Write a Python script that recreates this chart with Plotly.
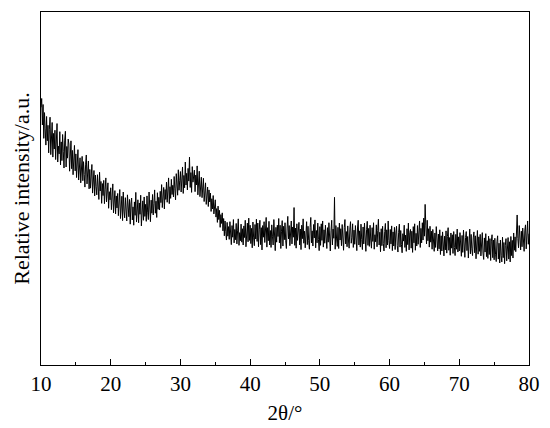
import plotly.graph_objects as go

# XRD scan: start angle and step of the measurement (degrees 2-theta)
start_deg = 10.0
step_deg = 0.1

# Relative intensity (a.u.), one row per degree: 10.0..10.9, 11.0..11.9, ...
intensity = [
    73.0, 75.5, 68.0, 73.8, 64.2, 71.5, 66.9, 62.3, 70.4, 63.5,
    67.9, 60.1, 66.8, 70.2, 59.6, 64.3, 68.7, 58.9, 65.6, 61.2,
    66.5, 58.2, 63.9, 68.4, 57.5, 62.0, 59.8, 66.1, 56.7, 63.2,
    57.9, 65.3, 60.4, 55.8, 63.7, 66.2, 56.1, 61.9, 58.6, 64.0,
    62.6, 54.9, 59.2, 63.5, 55.6, 60.8, 53.9, 58.1, 62.2, 55.0,
    59.8, 53.1, 57.4, 61.0, 52.4, 55.9, 58.7, 51.6, 56.3, 59.1,
    52.2, 57.6, 54.0, 50.4, 56.9, 59.5, 51.3, 54.6, 57.8, 49.9,
    55.4, 50.1, 53.3, 56.8, 48.7, 52.5, 55.1, 47.9, 53.8, 50.6,
    48.2, 53.9, 50.7, 46.9, 54.6, 49.3, 52.0, 45.8, 51.4, 48.0,
    52.3, 45.7, 49.8, 53.0, 46.2, 48.5, 51.6, 44.4, 49.1, 46.8,
    50.2, 44.0, 47.5, 51.3, 43.1, 46.7, 49.4, 42.8, 47.9, 44.5,
    48.6, 42.3, 46.0, 49.7, 41.5, 45.2, 47.8, 40.9, 49.0, 43.6,
    41.7, 47.4, 43.9, 40.8, 48.2, 44.5, 42.0, 46.9, 39.9, 45.6,
    47.3, 41.1, 44.8, 39.6, 46.2, 42.4, 48.9, 40.5, 44.0, 46.8,
    40.3, 45.9, 42.7, 48.1, 39.4, 44.2, 46.5, 41.0, 47.6, 42.1,
    45.5, 40.7, 47.9, 43.3, 41.2, 49.0, 44.6, 40.6, 46.7, 43.0,
    48.3, 42.5, 45.7, 49.6, 43.0, 46.4, 41.8, 48.8, 44.1, 47.5,
    43.9, 49.2, 46.0, 51.1, 44.6, 47.8, 50.3, 44.2, 49.7, 46.9,
    51.8, 46.1, 49.4, 53.0, 45.7, 50.5, 47.2, 52.6, 48.3, 50.9,
    47.6, 53.4, 49.9, 46.8, 54.2, 50.7, 48.1, 55.3, 49.5, 52.2,
    54.8, 49.0, 52.4, 56.1, 48.6, 53.7, 50.2, 57.5, 51.0, 54.3,
    49.6, 55.7, 52.1, 58.9, 50.3, 54.5, 48.9, 56.2, 51.8, 53.6,
    55.2, 49.1, 53.8, 51.0, 56.4, 48.2, 52.6, 54.9, 47.7, 51.5,
    53.2, 47.4, 50.8, 52.9, 46.3, 49.7, 51.6, 45.5, 48.8, 50.4,
    44.9, 49.6, 46.2, 48.7, 43.5, 47.1, 44.2, 48.0, 42.8, 45.9,
    46.8, 41.9, 44.3, 40.4, 45.0, 41.2, 43.8, 39.0, 42.6, 40.1,
    43.1, 38.0, 41.5, 36.6, 40.8, 37.9, 35.4, 40.4, 36.5, 39.2,
    35.6, 40.6, 37.3, 34.1, 39.5, 36.2, 41.2, 34.6, 38.4, 35.5,
    40.1, 34.3, 38.0, 41.4, 33.9, 37.5, 35.2, 39.9, 34.8, 38.6,
    34.0, 39.4, 36.1, 41.0, 33.5, 37.8, 40.2, 34.9, 41.6, 35.3,
    39.6, 34.4, 38.7, 33.2, 40.5, 36.0, 33.8, 39.8, 35.7, 41.3,
    35.0, 40.2, 33.5, 38.3, 41.0, 34.1, 38.9, 32.6, 39.5, 36.2,
    40.6, 34.7, 37.6, 41.8, 33.4, 38.9, 35.2, 40.7, 34.0, 38.1,
    33.3, 39.7, 36.5, 34.0, 41.2, 35.9, 32.4, 39.0, 34.8, 39.6,
    36.4, 41.5, 34.6, 39.6, 33.0, 37.9, 40.9, 33.7, 39.3, 35.5,
    40.3, 35.2, 33.0, 38.8, 42.1, 35.7, 39.5, 33.8, 38.2, 40.8,
    34.3, 39.1, 36.2, 44.6, 33.9, 38.8, 33.1, 40.0, 35.3, 38.1,
    40.4, 34.0, 38.5, 32.7, 39.6, 35.8, 41.4, 34.5, 37.9, 33.2,
    37.5, 40.6, 34.1, 39.3, 35.2, 32.8, 38.9, 41.8, 34.6, 38.0,
    33.7, 39.8, 36.0, 41.1, 33.2, 38.1, 34.6, 40.2, 35.5, 32.4,
    39.2, 33.9, 40.0, 35.3, 40.8, 33.4, 38.3, 34.5, 39.6, 35.2,
    33.0, 38.9, 34.8, 40.3, 35.6, 32.3, 38.0, 41.0, 34.0, 38.5,
    35.9, 47.5, 32.8, 39.5, 35.7, 33.6, 39.0, 33.0, 40.2, 35.4,
    38.6, 33.8, 39.8, 35.9, 32.5, 38.9, 41.2, 34.3, 37.8, 33.5,
    39.4, 35.4, 33.1, 38.5, 40.6, 34.5, 36.1, 40.0, 33.3, 38.2,
    34.2, 39.5, 35.8, 32.4, 38.8, 41.0, 34.0, 38.0, 33.4, 39.9,
    35.6, 32.7, 39.1, 34.3, 40.2, 35.2, 32.2, 38.3, 40.7, 33.9,
    38.7, 33.6, 39.6, 35.4, 33.1, 38.9, 35.0, 40.3, 32.8, 36.9,
    34.9, 39.7, 33.5, 38.1, 41.3, 34.0, 37.6, 32.1, 38.6, 33.8,
    39.3, 34.4, 32.3, 37.8, 40.1, 33.2, 38.3, 34.0, 40.8, 35.3,
    33.0, 38.4, 34.3, 39.4, 32.4, 37.7, 33.7, 39.0, 32.7, 37.4,
    39.3, 33.8, 32.0, 37.6, 39.9, 33.4, 38.1, 34.2, 31.8, 37.2,
    35.1, 39.6, 33.3, 36.8, 32.2, 38.6, 34.1, 40.2, 32.6, 37.5,
    38.4, 33.1, 37.9, 31.9, 39.2, 34.6, 40.0, 32.5, 37.3, 33.7,
    39.5, 34.2, 38.0, 40.8, 33.3, 38.7, 34.6, 40.3, 35.4, 41.6,
    36.5, 45.5, 39.4, 34.3, 41.0, 35.2, 38.6, 33.4, 39.3, 34.8,
    37.9, 32.8, 38.4, 34.0, 32.2, 37.4, 33.3, 39.2, 34.2, 32.3,
    37.1, 32.9, 38.3, 31.3, 36.6, 32.3, 37.7, 33.6, 30.9, 36.5,
    32.6, 38.0, 31.7, 36.4, 38.9, 32.5, 36.1, 31.1, 37.4, 33.1,
    36.9, 31.6, 37.8, 33.3, 31.0, 37.0, 32.8, 38.5, 32.0, 36.3,
    32.3, 37.5, 33.6, 30.8, 36.7, 31.9, 38.2, 33.0, 30.5, 36.1,
    37.8, 32.4, 36.4, 30.3, 35.8, 38.5, 31.5, 37.0, 32.9, 31.0,
    36.0, 37.7, 31.8, 36.6, 30.1, 35.4, 38.1, 31.4, 36.3, 32.2,
    37.0, 30.9, 35.7, 37.5, 31.7, 29.9, 36.0, 32.0, 37.2, 30.7,
    35.2, 30.2, 36.5, 31.3, 35.8, 29.6, 35.1, 36.9, 30.4, 35.4,
    29.8, 35.9, 31.4, 29.3, 34.9, 36.6, 30.0, 34.5, 28.9, 35.4,
    31.0, 29.2, 36.2, 30.4, 34.7, 28.7, 33.9, 35.8, 29.5, 34.3,
    36.1, 30.0, 34.9, 29.2, 36.4, 31.0, 35.3, 30.3, 37.4, 32.5,
    36.3, 32.1, 38.7, 42.5, 35.8, 33.2, 39.5, 34.6, 32.6, 37.9,
    33.5, 38.8, 34.1, 32.2, 38.2, 39.7, 32.9, 37.6, 40.8, 34.2,
    37.2,
]

two_theta = [round(start_deg + step_deg * i, 2) for i in range(len(intensity))]

x_ticks = [10, 20, 30, 40, 50, 60, 70, 80]

font_family = "Liberation Serif, Times New Roman, serif"

fig = go.Figure()
fig.add_trace(go.Scatter(
    x=two_theta, y=intensity, mode="lines",
    line=dict(color="black", width=1),
    showlegend=False, hoverinfo="skip",
))

# the page body adds an 8px offset; margins compensate for it
fig.update_layout(
    width=550, height=428,
    margin=dict(l=33, r=29, t=4, b=71),
    paper_bgcolor="white", plot_bgcolor="white",
    font=dict(family=font_family, size=21, color="black"),
)
fig.update_xaxes(
    range=[10, 80], tickvals=x_ticks, ticktext=[str(v) for v in x_ticks],
    ticks="inside", ticklen=6, tickwidth=1, tickcolor="black",
    minor=dict(ticks="inside", ticklen=3, dtick=5, tickcolor="black", tickwidth=1),
    showline=True, linecolor="black", linewidth=1.3, mirror=True,
    showgrid=False, zeroline=False, automargin=False,
    tickfont=dict(family=font_family, size=21, color="black"),
    title=dict(text="2θ/°", font=dict(family=font_family, size=21, color="black"), standoff=9),
)
fig.update_yaxes(
    range=[0, 100], showticklabels=False, ticks="",
    showline=True, linecolor="black", linewidth=1.3, mirror=True,
    showgrid=False, zeroline=False, automargin=False,
    title=dict(text="Relative intensity/a.u.", font=dict(family=font_family, size=22, color="black"), standoff=4),
)

fig.write_html("out.html")
